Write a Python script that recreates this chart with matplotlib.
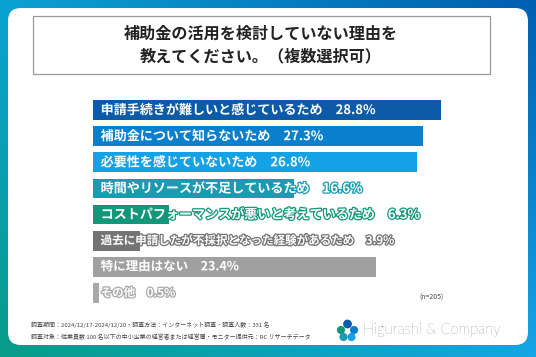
import numpy as np
import matplotlib
matplotlib.use("Agg")
import matplotlib.pyplot as plt
import matplotlib.patheffects as pe
from matplotlib.patches import FancyBboxPatch, Rectangle, Circle

plt.rcParams['font.family'] = ['Noto Sans CJK JP', 'DejaVu Sans']

# データ
labels = ['申請手続きが難しいと感じているため',
          '補助金について知らないため',
          '必要性を感じていないため',
          '時間やリソースが不足しているため',
          'コストパフォーマンスが悪いと考えているため',
          '過去に申請したが不採択となった経験があるため',
          '特に理由はない',
          'その他']
values = [28.8, 27.3, 26.8, 16.6, 6.3, 3.9, 23.4, 0.5]
colors = ['#0B5BA9', '#0A80CC', '#14A2E6', '#1A9BAF',
          '#12977B', '#747474', '#A0A0A0', '#A9A9A9']
sizes = [9.4, 9.4, 9.4, 9.4, 9.4, 8.3, 9.0, 8.3]

title = '補助金の活用を検討していない理由を\n教えてください。（複数選択可）'
note1 = '調査期間：2024/12/17-2024/12/20・調査方法：インターネット調査・調査人数：331 名'
note2 = '調査対象：従業員数 100 名以下の中小企業の経営者または経営層・モニター提供元：RC リサーチデータ'

W, H = 536, 357
fig = plt.figure(figsize=(W / 100, H / 100), dpi=100)

# 背景グラデーション
bg = fig.add_axes([0, 0, 1, 1])
bg.set_axis_off()
tl = np.array([0x0B, 0xA2, 0xD2]) / 255
tr = np.array([0x00, 0x5E, 0xB0]) / 255
bl = np.array([0x08, 0x9C, 0x88]) / 255
br = np.array([0x14, 0xA6, 0xE6]) / 255
u = np.linspace(0, 1, 200)[None, :, None]
v = np.linspace(0, 1, 140)[:, None, None]
grad = (1 - v) * ((1 - u) * tl + u * tr) + v * ((1 - u) * bl + u * br)
bg.imshow(grad, extent=[0, W, H, 0], aspect='auto')
bg.set_xlim(0, W)
bg.set_ylim(H, 0)
bg.add_patch(FancyBboxPatch((8, 8), 520, 337, boxstyle='round,pad=0,rounding_size=13',
                            fc='white', ec='none'))
bg.add_patch(Rectangle((33, 16), 457, 58, fc='white', ec='#9A9A9A', lw=0.9))
bg.text(261, 45, title, ha='center', va='center', fontsize=11.6,
        fontweight='bold', color='#222222', linespacing=1.45)
bg.text(431, 298, '(n=205)', ha='center', va='center', fontsize=5, color='#444444')
bg.text(31, 325, note1, ha='left', va='center', fontsize=4.3, color='#444444')
bg.text(31, 337, note2, ha='left', va='center', fontsize=4.3, color='#444444')

# ロゴ
for (cx, cy, r, c) in [(347.5, 324, 4.4, '#0B5BA9'), (341, 330, 4.1, '#12977B'),
                       (354, 330, 4.1, '#0A80CC'), (343.5, 337, 4.1, '#1A9BAF'),
                       (351.5, 337, 4.1, '#14A2E6')]:
    bg.add_patch(Circle((cx, cy), r, fc=c, ec='none'))
bg.text(363, 330, 'Higurashi & Company', ha='left', va='center', fontsize=10.6,
        family='Lato', fontweight='light', color='#444444')

# 棒グラフ
ax = fig.add_axes([93 / W, (H - 306) / H, 400 / W, 209 / H])
y = np.arange(len(values))
ax.barh(y, values, height=0.76, color=colors, edgecolor='none')
ax.set_xlim(0, 400 / 12.1)
ax.set_ylim(len(values) - 0.5, -0.5)
ax.set_axis_off()

for i, (lab, val) in enumerate(zip(labels, values)):
    t = ax.annotate(f'{lab}\u3000{val}%', xy=(0, i), xytext=(5.5, 0),
                    textcoords='offset points', ha='left', va='center',
                    fontsize=sizes[i], fontweight='bold', color='white')
    t.set_path_effects([pe.Stroke(linewidth=1.8, foreground=colors[i]), pe.Normal()])

fig.savefig('out.png', dpi=100)
